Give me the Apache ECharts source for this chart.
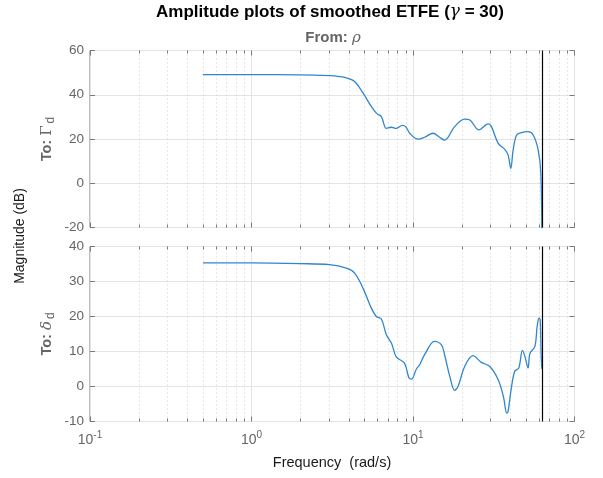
<!DOCTYPE html>
<html><head><meta charset="utf-8">
<script src="https://cdn.jsdelivr.net/npm/echarts@6/dist/echarts.min.js"></script>
<style>html,body{margin:0;padding:0;background:#fff}#c{width:603px;height:478px}</style>
</head><body><div id="c"></div>
<script>
// ---- data ----
const freqTop = [0.5,1.0,2.0,3.04,3.5,3.87,4.35,4.9,5.52,5.93,6.37,6.84,7.35,7.89,8.6,9.01,9.54,10.74,11.8,13.3,14.6,15.7,18.1,20.9,22.5,25.6,29.2,30.6,33.7,37.0,38.8,40.3,41.7,43.8,47.0,51.6,55.5,59.6,61.9,62.83];
const magTop  = [49.1,49.1,49.0,48.6,48.2,47.6,46.0,40.8,34.7,31.7,30.1,24.8,25.3,24.8,26.2,25.6,22.6,19.9,20.8,22.6,20.8,19.5,25.6,29.0,28.6,24.1,26.8,25.6,18.0,15.3,12.7,6.7,15.0,21.8,22.9,23.3,21.8,15.0,4.4,-30];
const freqBot = [0.5,1.0,2.0,3.04,3.87,4.35,4.9,5.52,5.93,6.37,6.84,7.35,7.89,8.85,9.45,9.78,10.5,11.0,11.8,13.6,15.0,15.7,16.9,18.1,19.0,20.9,23.5,26.5,29.9,33.7,36.3,38.1,38.8,40.5,42.6,45.2,47.6,49.3,51.6,53.0,56.8,58.7,60.3,61.3,62.2,62.83];
const magBot  = [35.3,35.3,35.1,34.8,33.8,32.4,28.1,22.4,20.0,19.3,14.8,12.4,8.4,6.7,2.4,2.1,5.0,6.2,9.1,12.9,11.9,9.0,2.9,-1.1,0.0,5.7,8.8,6.9,5.7,1.9,-2.9,-7.6,-7.1,-0.9,4.3,5.3,10.3,8.6,5.3,9.5,11.4,17.1,19.5,19.1,8.6,5.0];
const nyquist = 62.83;
const minorFreqs = [0.2,0.3,0.4,0.5,0.6,0.7,0.8,0.9,2,3,4,5,6,7,8,9,20,30,40,50,60,70,80,90];
const yTopTicks = [-20, 60, 20];   // min, max, interval
const yBotTicks = [-10, 40, 10];

const AX = '#7a7a7a', TXT = '#656565', GRID = '#e4e4e4', BLUE = '#2f86cf';
const FONT = 'Liberation Sans, Arial';

function minorRender(yMin, yMax){
  return function(params, api){
    const f = api.value(0);
    const p0 = api.coord([f, yMin]);
    const p1 = api.coord([f, yMax]);
    const x = Math.round(p0[0]) + 0.5;
    return {type:'group', silent:true, children:[
      {type:'line', shape:{x1:x,y1:p0[1],x2:x,y2:p1[1]}, style:{stroke:'#cfcfcf', lineDash:[1,3], lineWidth:1}},
      {type:'line', shape:{x1:x,y1:p0[1],x2:x,y2:p0[1]-3}, style:{stroke:AX, lineWidth:1}},
      {type:'line', shape:{x1:x,y1:p1[1],x2:x,y2:p1[1]+3}, style:{stroke:AX, lineWidth:1}}
    ]};
  };
}

const grids = [
  {left:90, right:28.5, top:50.5, height:177, show:true, borderColor:AX, borderWidth:1},
  {left:90, right:28.5, top:246.5, height:175, show:true, borderColor:AX, borderWidth:1}
];

function xAx(gi, pos, labels){
  return {type:'log', logBase:10, min:0.1, max:100, gridIndex:gi, position:pos,
    axisLine:{show:false, onZero:false},
    axisTick:{show:true, inside:true, length:5, lineStyle:{color:AX}},
    splitLine:{show:pos==='bottom', lineStyle:{color:GRID}},
    axisLabel:{show:labels, margin:9, color:TXT,
      formatter: v => '{b|10}{s|' + Math.round(Math.log10(v)) + '}',
      rich:{b:{fontSize:14, color:TXT, fontFamily:FONT}, s:{fontSize:10, color:TXT, padding:[0,0,9,0], fontFamily:FONT}}}
  };
}
function yAx(gi, t, pos){
  const left = pos==='left';
  return {type:'value', gridIndex:gi, min:t[0], max:t[1], interval:t[2], position:pos,
    axisLine:{show:false, onZero:false},
    axisTick:{show:true, inside:true, length:5, lineStyle:{color:AX}},
    splitLine:{show:left, lineStyle:{color:GRID}},
    axisLabel:{show:left, color:TXT, fontSize:13.5, margin:6, fontFamily:FONT}
  };
}

const vline = {silent:true, symbol:'none', label:{show:false}, lineStyle:{color:'#000', width:1.2, type:'solid'}, data:[{xAxis:nyquist}], animation:false};

const option = {
  animation:false,
  grid: grids,
  xAxis:[xAx(0,'bottom',false), xAx(0,'top',false), xAx(1,'bottom',true), xAx(1,'top',false)],
  yAxis:[yAx(0,yTopTicks,'left'), yAx(0,yTopTicks,'right'), yAx(1,yBotTicks,'left'), yAx(1,yBotTicks,'right')],
  series:[
    {type:'custom', xAxisIndex:0, yAxisIndex:0, data:minorFreqs.map(f=>[f,yTopTicks[0]]), renderItem:minorRender(yTopTicks[0], yTopTicks[1]), silent:true, z:1},
    {type:'custom', xAxisIndex:2, yAxisIndex:2, data:minorFreqs.map(f=>[f,yBotTicks[0]]), renderItem:minorRender(yBotTicks[0], yBotTicks[1]), silent:true, z:1},
    {type:'line', xAxisIndex:0, yAxisIndex:0, data:freqTop.map((f,i)=>[f,magTop[i]]), showSymbol:false, smooth:0.35, clip:true,
      lineStyle:{color:BLUE, width:1.3}, itemStyle:{color:BLUE}, markLine:vline, z:3},
    {type:'line', xAxisIndex:2, yAxisIndex:2, data:freqBot.map((f,i)=>[f,magBot[i]]), showSymbol:false, smooth:0.35, clip:true,
      lineStyle:{color:BLUE, width:1.3}, itemStyle:{color:BLUE}, markLine:vline, z:3}
  ],
  graphic:[
    {type:'text', x:330, y:12, style:{text:'{t|Amplitude plots of smoothed ETFE (}{g|γ}{t| = 30)}', align:'center', verticalAlign:'middle',
      rich:{t:{fontSize:17, fontWeight:'bold', fill:'#000', fontFamily:FONT}, g:{fontSize:17, fontStyle:'italic', fill:'#000', fontFamily:'DejaVu Serif, serif'}}}},
    {type:'text', x:333, y:38, style:{text:'{t|From: }{g|ρ}', align:'center', verticalAlign:'middle',
      rich:{t:{fontSize:15, fontWeight:'bold', fill:TXT, fontFamily:FONT}, g:{fontSize:15, fontStyle:'italic', fill:TXT, fontFamily:'DejaVu Serif, serif'}}}},
    {type:'text', x:47, y:139, rotation:Math.PI/2, style:{text:'{t|To: }{g|Γ}{s|d}', align:'center', verticalAlign:'middle',
      rich:{t:{fontSize:14.5, fontWeight:'bold', fill:TXT, fontFamily:FONT}, g:{fontSize:15, fill:TXT, fontFamily:'DejaVu Serif, serif'}, s:{fontSize:12, fill:TXT, padding:[8,0,0,2], fontFamily:FONT}}}},
    {type:'text', x:47, y:334, rotation:Math.PI/2, style:{text:'{t|To: }{g|δ}{s|d}', align:'center', verticalAlign:'middle',
      rich:{t:{fontSize:14.5, fontWeight:'bold', fill:TXT, fontFamily:FONT}, g:{fontSize:15, fontStyle:'italic', fill:TXT, fontFamily:'DejaVu Serif, serif'}, s:{fontSize:12, fill:TXT, padding:[8,0,0,2], fontFamily:FONT}}}},
    {type:'text', x:20, y:236, rotation:Math.PI/2, style:{text:'Magnitude (dB)', align:'center', verticalAlign:'middle', fontSize:14, fill:'#1a1a1a', fontFamily:FONT}},
    {type:'text', x:332, y:463, style:{text:'Frequency  (rad/s)', align:'center', verticalAlign:'middle', fontSize:14.5, fill:'#1a1a1a', fontFamily:FONT}}
  ]
};
const chart = echarts.init(document.getElementById('c'), null, {renderer:'canvas'});
chart.setOption(option);
</script></body></html>
